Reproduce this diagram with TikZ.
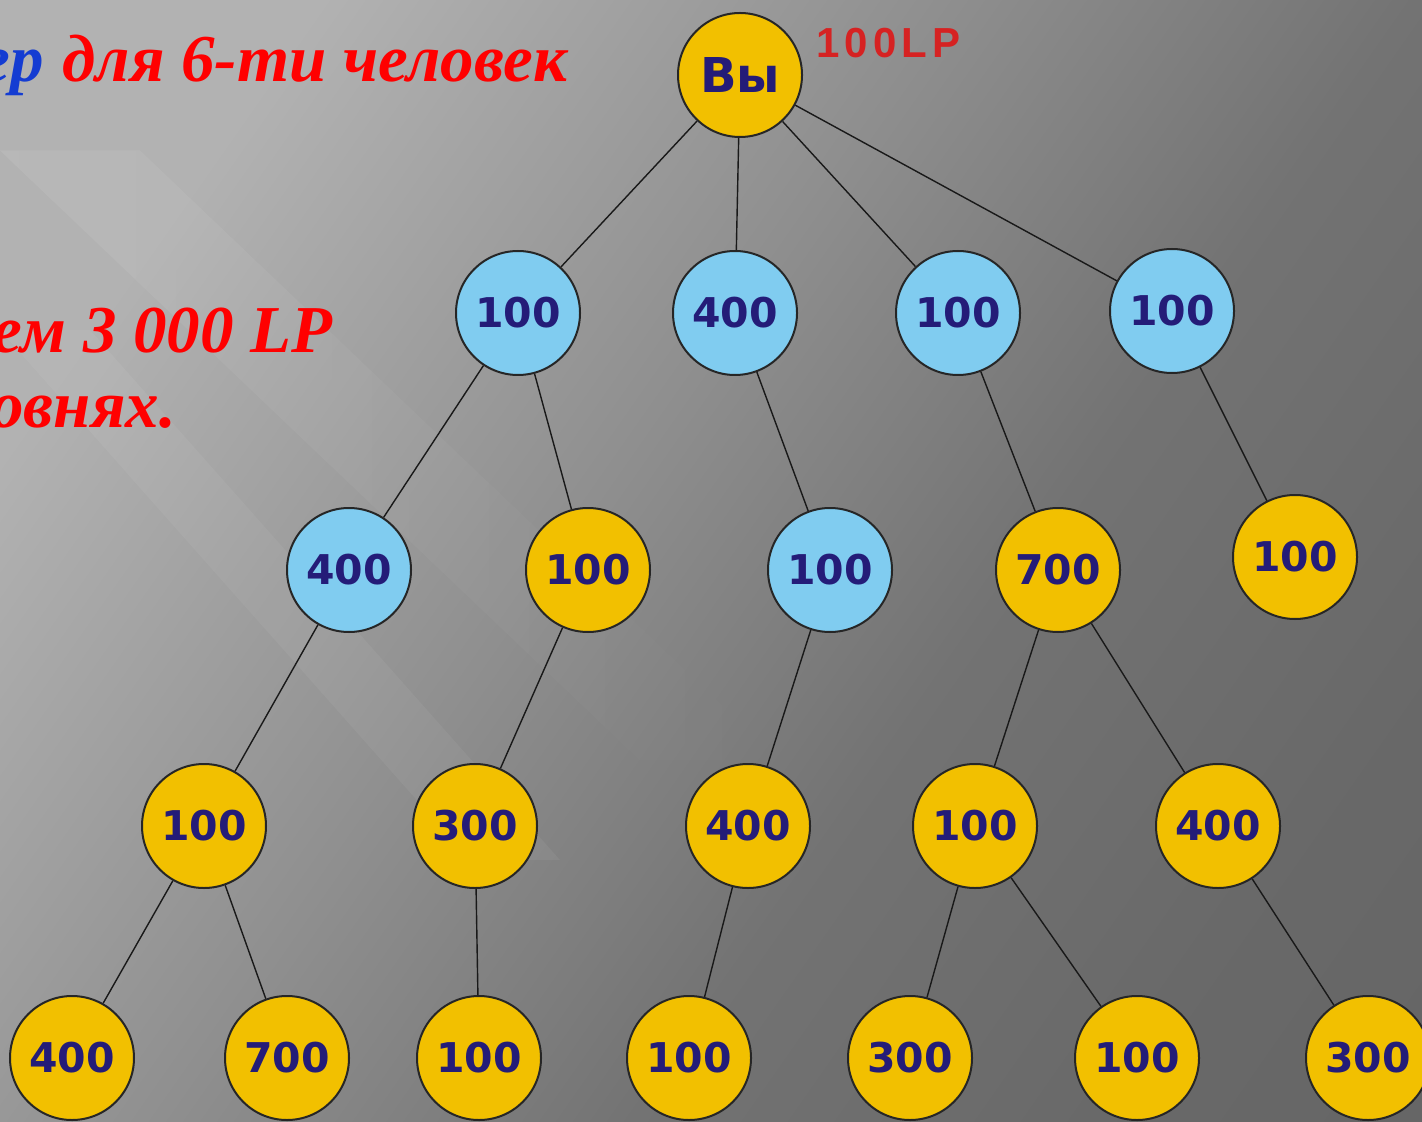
\documentclass[tikz,border=0pt]{standalone}
\usepackage{fontspec}
\usetikzlibrary{fadings}
\setmainfont{Liberation Serif}
\newfontfamily\numfont{DejaVu Sans}
\newfontfamily\lpfont{Liberation Sans}[LetterSpace=12]
\pgfdeclarehorizontalshading{bgsh}{100bp}{rgb(0bp)=(0.70,0.70,0.70); rgb(25bp)=(0.70,0.70,0.70); rgb(45bp)=(0.56,0.56,0.56); rgb(60bp)=(0.45,0.45,0.45); rgb(75bp)=(0.41,0.41,0.41); rgb(100bp)=(0.38,0.38,0.38)}
\definecolor{gold}{RGB}{242,192,0}
\definecolor{sky}{RGB}{128,204,240}
\definecolor{navy}{RGB}{36,28,120}
\definecolor{lpred}{RGB}{214,34,34}
\definecolor{titlered}{RGB}{255,0,0}
\definecolor{titleblue}{RGB}{20,60,210}
\tikzset{
  ball/.style={circle, draw=black!85, line width=1pt, minimum size=62pt, inner sep=0pt,
     font=\numfont\bfseries\fontsize{20.5}{24}\selectfont, text=navy},
  yb/.style={ball, fill=gold},
  bb/.style={ball, fill=sky},
  link/.style={draw=black!90, line width=0.7pt},
  title/.style={inner sep=0pt, anchor=base west, font=\bfseries\itshape\fontsize{33.5}{40}\selectfont}
}
\begin{document}
\begin{tikzpicture}[x=0.5pt,y=-0.5pt]
\useasboundingbox (0,0) rectangle (1422,1122);
\clip (0,0) rectangle (1422,1122);
\shade[shading=bgsh, shading angle=-35] (0,0) rectangle (1422,1122);
\fill[white, opacity=0.08, path fading=east] (0,150) -- (140,150) -- (780,760) -- (640,760) -- cycle;
\fill[white, opacity=0.05] (0,330) -- (90,330) -- (560,860) -- (470,860) -- cycle;

% titles
\node[title, text=titleblue] (t1) at (-20,82) {ер};
\node[title, text=titlered] (t2) at (62,82) {для 6-ти человек};
\node[title, text=titlered] (t3) at (-8,353) {ем 3 000 LP};
\node[title, text=titlered] (t4) at (-10,428) {овнях.};

% nodes
\node[yb, font=\numfont\bfseries\fontsize{24}{28}\selectfont] (r) at (740,75) {Вы};
\node[inner sep=0pt, anchor=base west, text=lpred, font=\lpfont\bfseries\fontsize{21}{24}\selectfont] (lp) at (816,58) {100LP};

\node[bb] (a1) at (518,313) {100};
\node[bb] (a2) at (735,313) {400};
\node[bb] (a3) at (958,313) {100};
\node[bb] (a4) at (1172,311) {100};

\node[bb] (b1) at (349,570) {400};
\node[yb] (b2) at (588,570) {100};
\node[bb] (b3) at (830,570) {100};
\node[yb] (b4) at (1058,570) {700};
\node[yb] (b5) at (1295,557) {100};

\node[yb] (c1) at (204,826) {100};
\node[yb] (c2) at (475,826) {300};
\node[yb] (c3) at (748,826) {400};
\node[yb] (c4) at (975,826) {100};
\node[yb] (c5) at (1218,826) {400};

\node[yb] (d1) at (72,1058) {400};
\node[yb] (d2) at (287,1058) {700};
\node[yb] (d3) at (479,1058) {100};
\node[yb] (d4) at (689,1058) {100};
\node[yb] (d5) at (910,1058) {300};
\node[yb] (d6) at (1137,1058) {100};
\node[yb] (d7) at (1368,1058) {300};

% links
\foreach \u/\v in {r/a1, r/a2, r/a3, r/a4, a1/b1, a1/b2, a2/b3, a3/b4, a4/b5,
  b1/c1, b2/c2, b3/c3, b4/c4, b4/c5, c1/d1, c1/d2, c2/d3, c3/d4, c4/d5, c4/d6, c5/d7}
  \draw[link] (\u) -- (\v);
\end{tikzpicture}
\end{document}
